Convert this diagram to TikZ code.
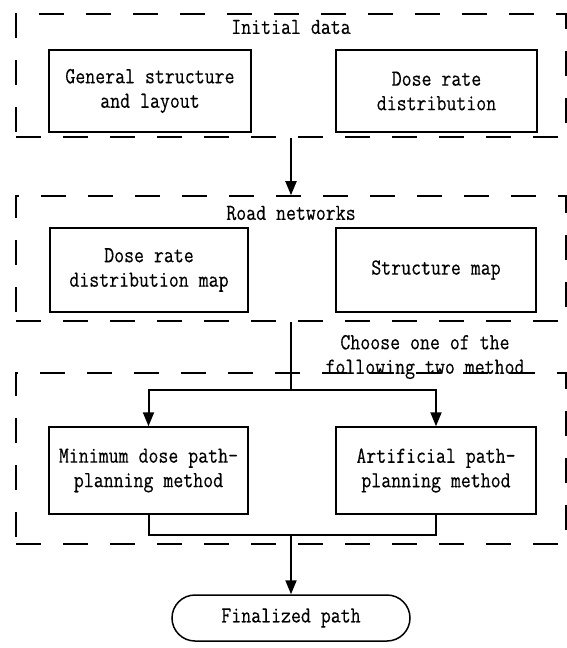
\documentclass[tikz,border=0pt]{standalone}
\usepackage{fontspec}
\setmonofont{Latin Modern Mono}[FakeStretch=0.84,FakeBold=0.3]
\usetikzlibrary{arrows.meta,shapes.misc}
\begin{document}
\begin{tikzpicture}[x=1pt,y=-1pt,
  every node/.style={font=\fontsize{23}{24.5}\ttfamily},
  frame/.style={draw,line width=1.6pt,dash pattern=on 25pt off 22pt,inner sep=0pt},
  box/.style={draw,line width=1.5pt,inner sep=0pt,align=center},
  term/.style={draw,line width=1.5pt,rounded rectangle,inner sep=0pt,minimum width=238pt,minimum height=46pt},
  lab/.style={inner sep=0pt,align=center},
  conn/.style={line width=2pt},
  arr/.style={line width=2pt,-{Triangle[length=14pt,width=11pt]}}]
\useasboundingbox (0,0) rectangle (566,648);
\node[frame,minimum width=550pt,minimum height=123pt] (f1) at (291,75.5) {};
\node[frame,minimum width=550pt,minimum height=125pt] (f2) at (291,258.5) {};
\node[frame,minimum width=550pt,minimum height=171pt] (f3) at (291,458.5) {};
\node[lab] (t1) at (291,27) {Initial data};
\node[lab] (t2) at (291,213) {Road networks};
\node[lab] (t3) at (425,357) {Choose one of the\\following two method};
\node[box,minimum width=202pt,minimum height=82pt] (A) at (150,91) {General structure\\and layout};
\node[box,minimum width=201pt,minimum height=82pt] (B) at (436.5,91) {Dose rate\\distribution};
\node[box,minimum width=198pt,minimum height=84pt] (C) at (149,270) {Dose rate\\distribution map};
\node[box,minimum width=200pt,minimum height=84pt] (D) at (436,270) {Structure map};
\node[box,minimum width=199pt,minimum height=87pt] (E) at (148.5,470.5) {Minimum dose path-\\planning method};
\node[box,minimum width=200pt,minimum height=87pt] (F) at (436,470.5) {Artificial path-\\planning method};
\node[term] (T) at (291,618) {Finalized path};
\coordinate (sp) at (291,389.5);
\coordinate (mg) at (291,535);
\draw[arr] (f1.south) -- (f2.north);
\draw[conn] (f2.south) -- (sp);
\draw[arr] (sp) -| (E.north);
\draw[arr] (sp) -| (F.north);
\draw[conn] (E.south) |- (mg);
\draw[conn] (F.south) |- (mg);
\draw[arr] (mg) -- (T.north);
\end{tikzpicture}
\end{document}
